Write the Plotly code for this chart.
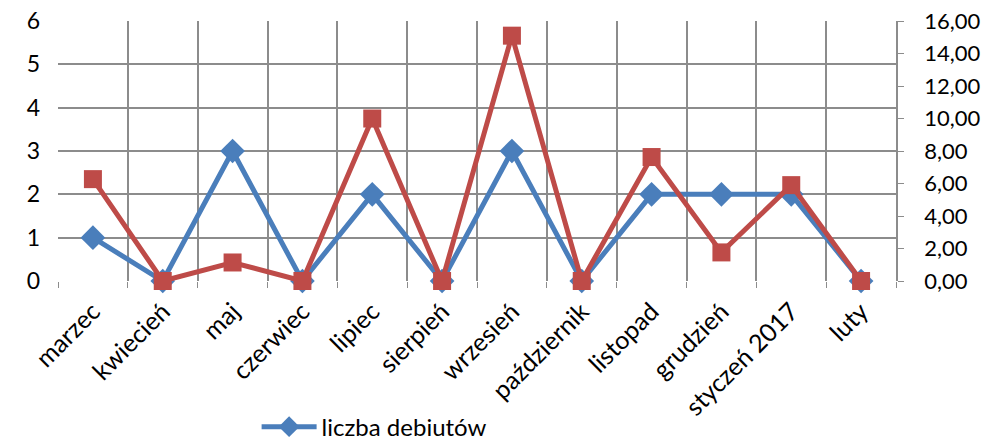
import plotly.graph_objects as go

months = ["marzec", "kwiecień", "maj", "czerwiec", "lipiec", "sierpień", "wrzesień",
          "październik", "listopad", "grudzień", "styczeń 2017", "luty"]
debuts = [1, 0, 3, 0, 2, 0, 3, 0, 2, 2, 2, 0]
second_series = [6.27, 0, 1.14, 0, 10.0, 0, 15.1, 0, 7.63, 1.76, 5.9, 0]

BLUE = "#4A7EBB"
RED = "#BE4B48"
GRID = "#8C8C8C"
FONT = "Lato"

fig = go.Figure()
fig.add_trace(go.Scatter(
    x=months, y=debuts, name="liczba debiutów", mode="lines+markers",
    line=dict(color=BLUE, width=5),
    marker=dict(symbol="diamond", size=19, color=BLUE),
    yaxis="y", cliponaxis=False))
fig.add_trace(go.Scatter(
    x=months, y=second_series, name="", mode="lines+markers",
    line=dict(color=RED, width=5),
    marker=dict(symbol="square", size=18, color=RED),
    yaxis="y2", showlegend=False, cliponaxis=False))

fig.update_layout(
    width=984, height=440,
    margin=dict(l=58, r=88, t=21, b=159, autoexpand=False),
    paper_bgcolor="white", plot_bgcolor="white",
    separators=", ",
    font=dict(family=FONT, size=23, color="#000000"),
    xaxis=dict(type="category", tickson="boundaries", showgrid=True,
               range=[-0.5, 11.5],
               gridcolor=GRID, gridwidth=1.5, tickangle=-45,
               ticks="outside", ticklen=6, tickcolor=GRID,
               showline=False, zeroline=False, automargin=False,
               ticklabelstandoff=10,
               tickfont=dict(family=FONT, size=25)),
    yaxis=dict(range=[0, 6.001], tickvals=[0, 1, 2, 3, 4, 5, 6],
               showgrid=True, gridcolor=GRID, gridwidth=1.5,
               zeroline=False, showline=False, ticks="", automargin=False,
               ticklabelstandoff=17,
               tickfont=dict(family=FONT, size=23)),
    yaxis2=dict(range=[0, 16.003], tickvals=[0, 2, 4, 6, 8, 10, 12, 14, 16],
                tickformat=".2f", overlaying="y", side="right",
                showgrid=False, zeroline=False, showline=True, automargin=False,
                linecolor=GRID, linewidth=1.5, ticks="outside", ticklen=6,
                tickcolor=GRID, ticklabelstandoff=16,
                tickfont=dict(family=FONT, size=22)),
    legend=dict(orientation="h", x=0.237, y=-0.562, xanchor="left", yanchor="middle",
                font=dict(family=FONT, size=24), itemwidth=55),
    showlegend=True,
)

fig.write_html("out.html", config={"displayModeBar": False},
               post_script="document.body.style.margin='0px';")
